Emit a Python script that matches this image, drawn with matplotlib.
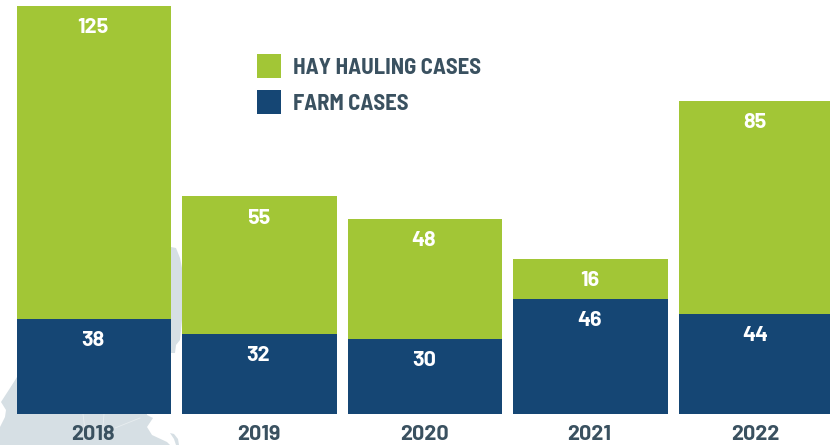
import matplotlib
matplotlib.use("Agg")
import matplotlib.pyplot as plt
from matplotlib.patches import Polygon

years = ["2018", "2019", "2020", "2021", "2022"]
farm_heights = [38, 32, 30, 46, 40]  # the 2022 bar is drawn shorter than its label says
farm_labels = [38, 32, 30, 46, 44]
hay_cases = [125, 55, 48, 16, 85]

GREEN = "#a2c636"
NAVY = "#154674"
SLATE = "#3a5160"
MAP_GREY = "#d6dfe4"
NUM_FONT = ["Barlow", "Roboto", "DejaVu Sans"]
LEGEND_FONT = ["Barlow Semi Condensed", "Asap Condensed", "Roboto", "DejaVu Sans"]


def px(x, y):
    return x / 830, 1 - y / 445


fig = plt.figure(figsize=(8.3, 4.45), dpi=100)

# faint map shape behind the bars, in pixels of the reference
map_parts = [
    [(0, 445), (0, 427), (5, 417), (6, 410), (1, 402), (12, 385), (17, 377), (60, 377),
     (147, 377), (147, 415), (153, 418), (147, 427), (152, 435), (167, 442), (170, 445)],
    [(171, 247), (176, 248), (180, 258), (182, 268), (182, 320), (180, 340), (176, 345),
     (175, 353), (171, 353)],
    [(170, 433), (174, 434), (178, 439), (179, 445), (176, 445), (174, 439)],
]
for part in map_parts:
    fig.add_artist(Polygon([px(x, y) for x, y in part], closed=True, transform=fig.transFigure,
                           facecolor=MAP_GREY, edgecolor="none", zorder=-1))
# state borders
for line in [[(83, 414), (85, 430)], [(104, 414), (103, 426)], [(140, 418), (115, 428)]]:
    xs_, ys_ = zip(*[px(x, y) for x, y in line])
    fig.add_artist(plt.Line2D(xs_, ys_, transform=fig.transFigure, color="#e8edf0", lw=0.6, zorder=-1))

ax = fig.add_axes([0, 0, 1, 1])
ax.patch.set_alpha(0)
ax.set_xlim(-94 / 165.5, (830 - 94) / 165.5)
ax.set_ylim(-31 / 2.505, 414 / 2.505)
ax.axis("off")

xs = range(len(years))
ax.bar(xs, farm_heights, width=0.935, color=NAVY)
ax.bar(xs, hay_cases, width=0.935, bottom=farm_heights, color=GREEN)

for i, year in enumerate(years):
    ax.annotate(str(farm_labels[i]), (i, farm_heights[i]), xytext=(-1, -22), textcoords="offset pixels",
                ha="center", va="center", color="white", fontsize=15.5, fontweight="bold", family=NUM_FONT)
    ax.annotate(str(hay_cases[i]), (i, farm_heights[i] + hay_cases[i]), xytext=(-1, -22), textcoords="offset pixels",
                ha="center", va="center", color="white", fontsize=15.5, fontweight="bold", family=NUM_FONT)
    ax.annotate(year, (i, 0), xytext=(-1, -21), textcoords="offset pixels",
                ha="center", va="center", color=SLATE, fontsize=15.5, fontweight="bold", family=NUM_FONT)

# legend drawn by hand so the swatches land where they do in the reference
for y_top, color, label in [(54, GREEN, "HAY HAULING CASES"), (90, NAVY, "FARM CASES")]:
    fig.add_artist(plt.Rectangle(px(257, y_top + 24), 24 / 830, 24 / 445,
                                 transform=fig.transFigure, facecolor=color, edgecolor="none"))
    fig.text(*px(293, y_top + 14.5), label, ha="left", va="center",
             color=SLATE, fontsize=16.3, fontweight="bold", family=LEGEND_FONT)

fig.savefig("out.png", dpi=100)
